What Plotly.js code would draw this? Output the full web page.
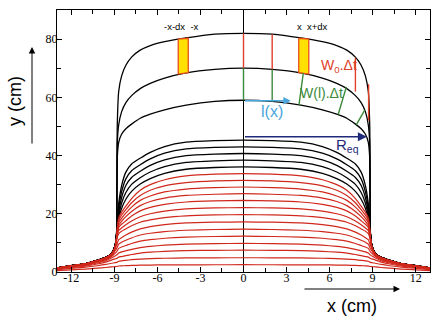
<!DOCTYPE html>
<html><head><meta charset="utf-8">
<script src="https://cdn.plot.ly/plotly-3.0.1.min.js"></script>
<style>html,body{margin:0;padding:0;background:#fff}#chart{width:437px;height:321px}</style>
</head><body><div id="chart"></div>
<script>
// Half profiles (x >= 0); the pile is symmetric about x = 0
const halfX = [0, 2, 4, 5.5, 6.5, 7.2, 7.8, 8.2, 8.5, 8.7, 8.8, 8.85, 8.95, 9.2, 9.6, 10.2, 11, 12, 13];

// red profiles, lowest first
const red01 = [2.5, 2.49, 2.47, 2.44, 2.39, 2.33, 2.25, 2.17, 2.11, 2.05, 1.95, 1.9, 1.85, 1.75, 1.55, 1.3, 1.0, 0.75, 0.5];
const red02 = [4.9, 4.88, 4.83, 4.73, 4.6, 4.44, 4.22, 4.0, 3.84, 3.68, 3.4, 3.3, 3.2, 3.0, 2.6, 2.15, 1.65, 1.25, 0.8];
const red03 = [7.5, 7.45, 7.35, 7.1, 6.8, 6.5, 6.0, 5.6, 5.3, 5.1, 4.8, 4.65, 4.5, 4.1, 3.4, 2.75, 2.05, 1.55, 1.0];
const red04 = [9.8, 9.75, 9.55, 9.2, 8.8, 8.4, 7.8, 7.3, 6.9, 6.5, 6.0, 5.8, 5.5, 4.8, 3.85, 3.1, 2.3, 1.72, 1.1];
const red05 = [12.3, 12.2, 12.0, 11.6, 11.1, 10.6, 9.8, 9.1, 8.6, 8.1, 7.3, 6.9, 6.4, 5.3, 4.2, 3.35, 2.48, 1.85, 1.17];
const red06 = [14.7, 14.6, 14.35, 13.9, 13.3, 12.7, 11.7, 10.9, 10.2, 9.6, 8.5, 8.0, 7.3, 5.55, 4.4, 3.5, 2.58, 1.92, 1.21];
const red07 = [17.2, 17.1, 16.85, 16.3, 15.6, 14.8, 13.7, 12.7, 11.8, 11.1, 9.8, 9.2, 8.0, 5.7, 4.5, 3.6, 2.64, 1.96, 1.24];
const red08 = [19.7, 19.6, 19.3, 18.7, 17.9, 17.1, 15.9, 14.8, 14.0, 13.2, 11.9, 10.9, 8.2, 5.8, 4.6, 3.65, 2.68, 1.99, 1.26];
const red09 = [22.1, 22.0, 21.65, 20.9, 20.0, 19.0, 17.5, 16.2, 15.1, 14.3, 12.4, 11.1, 8.3, 5.9, 4.7, 3.7, 2.72, 2.02, 1.28];
const red10 = [24.6, 24.45, 24.05, 23.2, 22.2, 21.0, 19.2, 17.6, 16.4, 15.3, 12.9, 11.3, 8.4, 5.95, 4.75, 3.75, 2.75, 2.05, 1.3];
const red11 = [26.9, 26.7, 26.3, 25.4, 24.2, 22.8, 20.8, 19.0, 17.4, 16.1, 13.4, 11.5, 8.45, 6.0, 4.8, 3.8, 2.78, 2.08, 1.32];
const red12 = [29.2, 29.0, 28.5, 27.5, 26.1, 24.6, 22.3, 20.2, 18.4, 16.9, 13.8, 11.6, 8.5, 6.1, 4.85, 3.85, 2.81, 2.11, 1.34];
const red13 = [31.5, 31.3, 30.7, 29.6, 28.1, 26.3, 23.8, 21.4, 19.5, 17.7, 14.3, 11.7, 8.55, 6.15, 4.9, 3.9, 2.84, 2.14, 1.36];
const red14 = [33.8, 33.6, 33.0, 31.7, 30.0, 28.1, 25.2, 22.6, 20.5, 18.6, 14.8, 11.8, 8.6, 6.2, 4.95, 3.95, 2.87, 2.17, 1.38];

// black profiles
const blk01 = [36.1, 35.9, 35.3, 33.9, 32.1, 30.2, 27.7, 25.0, 21.8, 18.3, 13.6, 12.5, 8.8, 6.3, 5.0, 4.0, 2.9, 2.2, 1.4];
const blk02 = [38.4, 38.2, 37.65, 36.2, 34.35, 32.4, 30.1, 27.3, 23.6, 19.1, 13.8, 12.8, 8.9, 6.3, 5.0, 4.0, 2.9, 2.2, 1.4];
const blk03 = [40.7, 40.5, 40.0, 38.5, 36.6, 34.6, 32.45, 29.7, 25.5, 20.4, 14.9, 13.0, 9.0, 6.3, 5.0, 4.0, 2.9, 2.2, 1.4];
const blk04 = [43.0, 42.8, 42.3, 40.8, 38.85, 36.85, 34.8, 32.0, 27.5, 22.0, 16.2, 13.0, 9.0, 6.3, 5.0, 4.0, 2.9, 2.2, 1.4];
const blk05 = [45.3, 45.1, 44.6, 43.1, 41.1, 39.1, 37.1, 34.3, 29.6, 23.5, 17.5, 13.0, 9.0, 6.3, 5.0, 4.0, 2.9, 2.2, 1.4];
const blk59 = [59, 58.6, 57.3, 55.7, 54.2, 52.8, 50.8, 49.2, 47.3, 44.5, 39.0, 13.0, 9.0, 6.3, 5.0, 4.0, 2.9, 2.2, 1.4];
const blk70 = [70, 69.6, 68.4, 66.6, 64.8, 63.0, 60.6, 58.2, 55.0, 50.5, 44.0, 13.0, 9.0, 6.3, 5.0, 4.0, 2.9, 2.2, 1.4];
const blk82 = [82, 81.7, 80.4, 79.1, 77.8, 76.2, 73.8, 71.0, 67.3, 62.0, 50.0, 13.0, 9.0, 6.3, 5.0, 4.0, 2.9, 2.2, 1.4];

const redProfiles = [red01, red02, red03, red04, red05, red06, red07, red08, red09, red10, red11, red12, red13, red14];
const blackProfiles = [blk01, blk02, blk03, blk04, blk05, blk59, blk70, blk82];

// yellow strips between the two top fronts
const stripLeftX = [-4.55, -3.85, -3.85, -4.55];
const stripLeftY = [80.0, 80.3, 68.5, 68.0];
const stripRightX = [3.85, 4.55, 4.55, 3.85];
const stripRightY = [80.3, 80.0, 68.0, 68.5];

// red W0.dt segments (vertical)
const redSegX = [0, 2, 7.8, 8.72];
const redSegTop = [82, 81.7, 73.6, 64.5];
const redSegBottom = [70, 69.6, 62.0, 52.0];

// green W(l).dt segments (normals)
const greenTopX = [0, 2, 4.17, 7.17, 8.45];
const greenTopY = [70, 69.6, 68.4, 63.6, 55.6];
const greenBotX = [0, 2, 3.87, 6.6, 7.87];
const greenBotY = [59, 58.6, 57.4, 54.1, 50.6];

// arrows
const lArrowX = [0, 3.3];
const lArrowY = [58.8, 58.8];
const reqArrowX = [0, 8.6];
const reqArrowY = [46.5, 46.5];

const xTicks = [-12, -9, -6, -3, 0, 3, 6, 9, 12];
const yTicks = [0, 20, 40, 60, 80];

function mirror(xs, ys) {
  const X = [], Y = [];
  for (let i = xs.length - 1; i > 0; i--) { X.push(-xs[i]); Y.push(ys[i]); }
  for (let i = 0; i < xs.length; i++) { X.push(xs[i]); Y.push(ys[i]); }
  return {x: X, y: Y};
}

const traces = [];
const lineShape = {shape: 'spline', smoothing: 0.5};
blackProfiles.forEach(p => {
  const m = mirror(halfX, p);
  traces.push({type: 'scatter', mode: 'lines', x: m.x, y: m.y, hoverinfo: 'skip',
    line: Object.assign({color: '#000', width: 1.3}, lineShape)});
});
redProfiles.forEach(p => {
  const m = mirror(halfX, p);
  traces.push({type: 'scatter', mode: 'lines', x: m.x, y: m.y, hoverinfo: 'skip',
    line: Object.assign({color: 'rgb(208,40,28)', width: 1.2}, lineShape)});
});
// strips
[[stripLeftX, stripLeftY], [stripRightX, stripRightY]].forEach(s => {
  traces.push({type: 'scatter', mode: 'lines', x: s[0].concat([s[0][0]]), y: s[1].concat([s[1][0]]),
    fill: 'toself', fillcolor: '#ffe000', line: {color: '#e8501a', width: 1.3}, hoverinfo: 'skip'});
});
// red segments
(function(){
  const X = [], Y = [];
  redSegX.forEach((x, i) => { X.push(x, x, null); Y.push(redSegTop[i], redSegBottom[i], null); });
  traces.push({type: 'scatter', mode: 'lines', x: X, y: Y, line: {color: '#e0402a', width: 1.4}, hoverinfo: 'skip'});
})();
// green segments
(function(){
  const X = [], Y = [];
  greenTopX.forEach((x, i) => { X.push(x, greenBotX[i], null); Y.push(greenTopY[i], greenBotY[i], null); });
  traces.push({type: 'scatter', mode: 'lines', x: X, y: Y, line: {color: '#3b8a3b', width: 1.4}, hoverinfo: 'skip'});
})();

const sans = 'Liberation Sans, Arial, sans-serif';
const annotations = [
  {x: lArrowX[1], y: lArrowY[1], ax: lArrowX[0], ay: lArrowY[0], xref: 'x', yref: 'y', axref: 'x', ayref: 'y',
   showarrow: true, arrowhead: 2, arrowsize: 1, arrowwidth: 1.5, arrowcolor: '#4aa6dc', text: ''},
  {x: reqArrowX[1], y: reqArrowY[1], ax: reqArrowX[0], ay: reqArrowY[0], xref: 'x', yref: 'y', axref: 'x', ayref: 'y',
   showarrow: true, arrowhead: 2, arrowsize: 1.2, arrowwidth: 1.5, arrowcolor: '#1f2a7a', text: ''},
  {x: 2.0, y: 55.2, xref: 'x', yref: 'y', text: 'l(x)', showarrow: false, xanchor: 'center', yanchor: 'middle', font: {family: sans, size: 16, color: '#4aa6dc'}},
  {x: 7.25, y: 43.3, xref: 'x', yref: 'y', text: 'R<sub>eq</sub>', showarrow: false, xanchor: 'center', yanchor: 'middle', font: {family: sans, size: 15, color: '#1f2a7a'}},
  {x: 6.65, y: 70.6, xref: 'x', yref: 'y', text: 'W<sub>0</sub>.Δt', showarrow: false, xanchor: 'center', yanchor: 'middle', font: {family: sans, size: 14, color: '#e0402a'}},
  {x: 5.45, y: 61.5, xref: 'x', yref: 'y', text: 'W(l).Δt', showarrow: false, xanchor: 'center', yanchor: 'middle', font: {family: sans, size: 14, color: '#3b8a3b'}},
  {x: -4.3, y: 84.2, xref: 'x', yref: 'y', text: '-x-dx  -x', showarrow: false, xanchor: 'center', yanchor: 'middle', font: {family: sans, size: 9.5, color: '#000'}},
  {x: 4.8, y: 84.2, xref: 'x', yref: 'y', text: 'x  x+dx', showarrow: false, xanchor: 'center', yanchor: 'middle', font: {family: sans, size: 9.5, color: '#000'}},
  {x: -0.1126, y: 0.6527, xref: 'paper', yref: 'paper', text: 'y (cm)', textangle: -90, showarrow: false, xanchor: 'center', yanchor: 'middle', font: {family: sans, size: 18, color: '#000'}},
  {x: 0.791, y: -0.1298, xref: 'paper', yref: 'paper', text: 'x (cm)', showarrow: false, xanchor: 'center', yanchor: 'middle', font: {family: sans, size: 18, color: '#000'}},
  {x: -0.067, y: 0.8588, ax: -0.067, ay: 0.4847, xref: 'paper', yref: 'paper', axref: 'paper', ayref: 'paper',
   showarrow: true, arrowhead: 2, arrowsize: 1.3, arrowwidth: 1, arrowcolor: '#000', text: ''},
  {x: 0.9196, y: -0.0649, ax: 0.6595, ay: -0.0649, xref: 'paper', yref: 'paper', axref: 'paper', ayref: 'paper',
   showarrow: true, arrowhead: 2, arrowsize: 1.3, arrowwidth: 1, arrowcolor: '#000', text: ''}
];

const tickFont = {family: 'Liberation Serif', size: 12, color: '#000'};
const layout = {
  width: 437, height: 321,
  margin: {l: 57, r: 7, t: 10, b: 49},
  paper_bgcolor: '#fff', plot_bgcolor: '#fff',
  showlegend: false,
  xaxis: {range: [-13, 13], tickmode: 'array', tickvals: xTicks, ticktext: xTicks.map(String),
    ticks: 'inside', ticklen: 5, tickwidth: 1, tickcolor: '#000', ticklabelstandoff: -5,
    showline: true, linecolor: '#000', linewidth: 1, mirror: 'allticks',
    showgrid: false, zeroline: true, zerolinecolor: '#000', zerolinewidth: 1,
    minor: {dtick: 1.5, tick0: 0, ticks: 'inside', ticklen: 4, tickcolor: '#000', showgrid: false},
    tickfont: tickFont, fixedrange: true},
  yaxis: {range: [0, 90], tickmode: 'array', tickvals: yTicks, ticktext: yTicks.map(String),
    ticks: 'inside', ticklen: 5, tickwidth: 1, tickcolor: '#000', ticklabelstandoff: -4,
    showline: true, linecolor: '#000', linewidth: 1, mirror: 'allticks',
    showgrid: false, zeroline: false,
    minor: {dtick: 10, tick0: 0, ticks: 'inside', ticklen: 4, tickcolor: '#000', showgrid: false},
    tickfont: tickFont, fixedrange: true},
  annotations: annotations
};

Plotly.newPlot('chart', traces, layout, {staticPlot: true, displayModeBar: false});
</script>
</body></html>
